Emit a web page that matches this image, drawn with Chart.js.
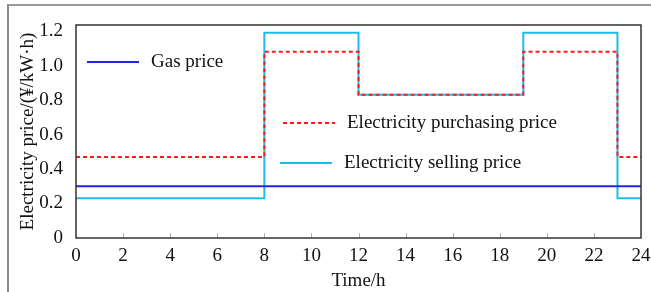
<!DOCTYPE html>
<html>
<head>
<meta charset="utf-8">
<script src="https://cdn.jsdelivr.net/npm/chart.js@4/dist/chart.umd.min.js"></script>
<style>
  html, body { margin: 0; padding: 0; background: #fff; }
  #wrap { position: relative; width: 651px; height: 292px; }
  #edge { position: absolute; left: 7px; top: 4px; right: 0; bottom: 0;
          border-left: 2px solid #8a8a8a; border-top: 2px solid #9a9a9a; pointer-events: none; }
  canvas { position: absolute; left: 0; top: 0; }
</style>
</head>
<body>
<div id="wrap">
  <canvas id="myChart" width="651" height="292"></canvas>
  <div id="edge"></div>
</div>
<script>
// hours where the price changes
const hours = [0, 8, 12, 19, 23, 24];
const gasPrice = [0.30, 0.30, 0.30, 0.30, 0.30, 0.30];
const buyPrice = [0.47, 1.08, 0.83, 1.08, 0.47, 0.47];
const sellPrice = [0.23, 1.19, 0.83, 1.19, 0.23, 0.23];
const xTicks = [0, 2, 4, 6, 8, 10, 12, 14, 16, 18, 20, 22, 24];
const yTicks = [0, 0.2, 0.4, 0.6, 0.8, 1.0, 1.2];

const serif = "'Liberation Serif', 'Times New Roman', serif";

function pts(vals) {
    return hours.map((h, i) => ({x: h, y: vals[i]}));
}

// legend items drawn inside the plot, like the original figure
const legendItems = [
    {text: 'Gas price', color: '#2323f0', dash: [], x: 87, y: 62},
    {text: 'Electricity purchasing price', color: '#ff1a1a', dash: [4, 3], x: 283, y: 123},
    {text: 'Electricity selling price', color: '#1cbcf0', dash: [], x: 280, y: 163}
];

const framePlugin = {
    id: 'frame',
    afterDatasetsDraw(chart) {
        const {ctx, chartArea: a, scales} = chart;
        ctx.save();
        // small inner ticks on the x axis
        ctx.strokeStyle = '#b0b0b0';
        ctx.lineWidth = 1;
        xTicks.slice(1, -1).forEach(t => {
            const px = Math.round(scales.x.getPixelForValue(t)) + 0.5;
            ctx.beginPath();
            ctx.moveTo(px, a.bottom);
            ctx.lineTo(px, a.bottom - 5);
            ctx.stroke();
        });
        // box round the plot
        ctx.strokeStyle = '#333';
        ctx.lineWidth = 1.5;
        ctx.strokeRect(a.left, a.top, a.right - a.left, a.bottom - a.top);
        // legend
        ctx.font = '19px ' + serif;
        ctx.textBaseline = 'middle';
        legendItems.forEach(it => {
            ctx.strokeStyle = it.color;
            ctx.lineWidth = 2;
            ctx.setLineDash(it.dash);
            ctx.beginPath();
            ctx.moveTo(it.x, it.y);
            ctx.lineTo(it.x + 52, it.y);
            ctx.stroke();
            ctx.setLineDash([]);
            ctx.fillStyle = '#111';
            ctx.fillText(it.text, it.x + 64, it.y);
        });
        ctx.restore();
    }
};

const ctx = document.getElementById('myChart');
new Chart(ctx, {
    type: 'line',
    data: {
        datasets: [
            {
                label: 'Gas price',
                data: pts(gasPrice),
                borderColor: '#2323f0',
                borderWidth: 2,
                stepped: 'before',
                pointRadius: 0,
                order: 1
            },
            {
                label: 'Electricity purchasing price',
                data: pts(buyPrice),
                borderColor: '#ff1a1a',
                borderWidth: 2,
                borderDash: [4, 3],
                stepped: 'before',
                pointRadius: 0,
                order: 2
            },
            {
                label: 'Electricity selling price',
                data: pts(sellPrice),
                borderColor: '#1cbcf0',
                borderWidth: 2,
                stepped: 'before',
                pointRadius: 0,
                order: 3
            }
        ]
    },
    options: {
        responsive: false,
        animation: false,
        layout: {padding: {left: 0, right: 10, top: 25, bottom: 0}},
        plugins: {
            legend: {display: false},
            tooltip: {enabled: false}
        },
        scales: {
            x: {
                type: 'linear',
                min: 0,
                max: 24,
                afterBuildTicks: s => { s.ticks = xTicks.map(v => ({value: v})); },
                afterFit: s => { s.height = 54; s.paddingRight = 0; s.paddingLeft = 0; },
                grid: {display: false},
                border: {display: false},
                ticks: {
                    color: '#111',
                    font: {family: serif, size: 19},
                    padding: -1
                },
                title: {
                    display: true,
                    text: 'Time/h',
                    color: '#111',
                    font: {family: serif, size: 19},
                    padding: {top: -2, bottom: 0}
                }
            },
            y: {
                min: 0,
                max: 1.235,
                afterBuildTicks: s => { s.ticks = yTicks.map(v => ({value: v})); },
                afterFit: s => { s.width = 76; s.paddingTop = 0; s.paddingBottom = 0; },
                grid: {display: false},
                border: {display: false},
                ticks: {
                    color: '#111',
                    font: {family: serif, size: 19},
                    padding: 5,
                    callback: v => v === 0 ? '0' : v.toFixed(1)
                },
                title: {
                    display: true,
                    text: 'Electricity price/(\u00a5/kW\u00b7h)',
                    color: '#111',
                    font: {family: serif, size: 19},
                    padding: {top: 17, bottom: 0}
                }
            }
        }
    },
    plugins: [framePlugin]
});
</script>
</body>
</html>
